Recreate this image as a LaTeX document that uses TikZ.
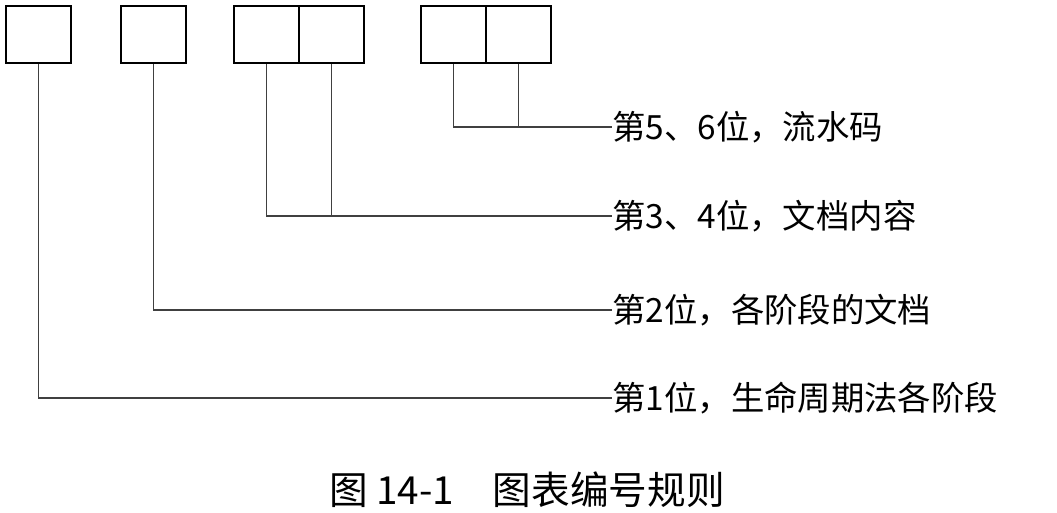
\documentclass[tikz,border=0pt]{standalone}
\usepackage{fontspec}
\setmainfont{Liberation Serif}
\newfontfamily\cjk{Noto Sans CJK SC}
\begin{document}
\begin{tikzpicture}[x=0.02cm,y=-0.02cm,
  cell/.style={draw,line width=1.2pt,minimum width=1.3cm,minimum height=1.14cm,inner sep=0,anchor=north west},
  lead/.style={line width=0.7pt,draw=black!75},
  lab/.style={anchor=west,inner sep=0,font=\fontsize{19}{22}\selectfont\cjk}]
\useasboundingbox (0,0) rectangle (1057,513);
\node[cell] (b1) at (5,5) {};
\node[cell] (b2) at (120,5) {};
\node[cell] (b3) at (233,5) {};
\node[cell] (b4) at (298,5) {};
\node[cell] (b5) at (420,5) {};
\node[cell] (b6) at (485,5) {};
\node[lab] (l1) at (612,398) {第1位，生命周期法各阶段};
\node[lab] (l2) at (612,310) {第2位，各阶段的文档};
\node[lab] (l3) at (612,216) {第3、4位，文档内容};
\node[lab] (l4) at (612,127) {第5、6位，流水码};
\draw[lead] (b1.south) |- (l1.west);
\draw[lead] (b2.south) |- (l2.west);
\draw[lead] (b3.south) |- (l3.west);
\draw[lead] (b4.south) -- (b4.south |- l3.west);
\draw[lead] (b5.south) |- (l4.west);
\draw[lead] (b6.south) -- (b6.south |- l4.west);
\node[font=\fontsize{22}{26}\selectfont\cjk] (cap) at (527,490) {图 14-1\quad 图表编号规则};
\end{tikzpicture}
\end{document}
